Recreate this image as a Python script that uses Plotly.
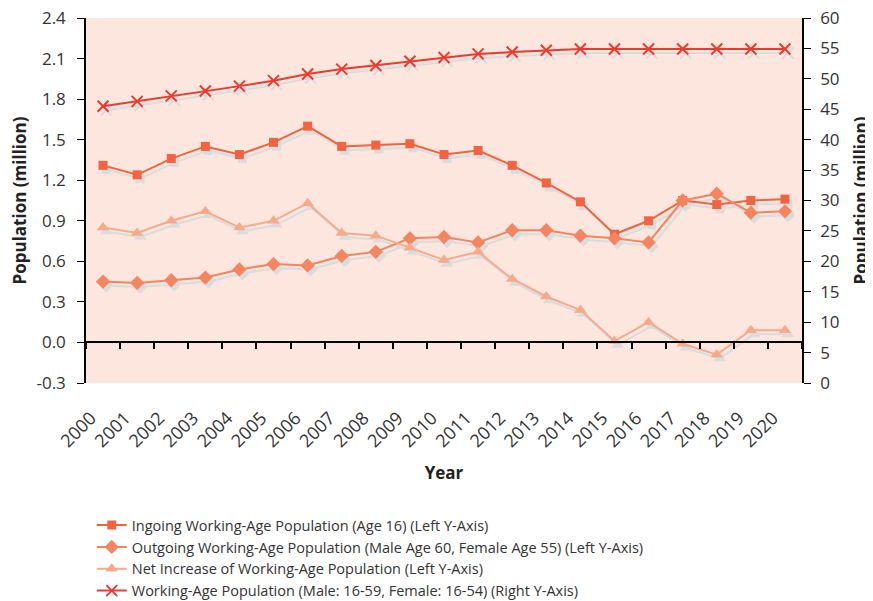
import plotly.graph_objects as go

# data
years = list(range(2000, 2021))
ingoing = [1.31, 1.24, 1.36, 1.45, 1.39, 1.48, 1.60, 1.45, 1.46, 1.47, 1.39,
           1.42, 1.31, 1.18, 1.04, 0.80, 0.90, 1.05, 1.02, 1.05, 1.06]
outgoing = [0.45, 0.44, 0.46, 0.48, 0.54, 0.58, 0.57, 0.64, 0.67, 0.77, 0.78,
            0.74, 0.83, 0.83, 0.79, 0.77, 0.74, 1.05, 1.10, 0.96, 0.97]
net_increase = [0.85, 0.81, 0.90, 0.97, 0.85, 0.90, 1.03, 0.81, 0.79, 0.70, 0.61,
                0.67, 0.47, 0.34, 0.24, 0.01, 0.15, -0.01, -0.09, 0.09, 0.09]
working_age = [45.5, 46.3, 47.2, 48.0, 48.8, 49.7, 50.8, 51.6, 52.2, 52.9, 53.5,
               54.1, 54.4, 54.7, 54.9, 54.9, 54.9, 54.9, 54.9, 54.9, 54.9]

left_ticks = [-0.3, 0.0, 0.3, 0.6, 0.9, 1.2, 1.5, 1.8, 2.1, 2.4]
left_labels = ["-0.3", "0.0", "0.3", "0.6", "0.9", "1.2", "1.5", "1.8", "2.1", "2.4"]

names = [
    "Ingoing Working-Age Population (Age 16) (Left Y-Axis)",
    "Outgoing Working-Age Population (Male Age 60, Female Age 55) (Left Y-Axis)",
    "Net Increase of Working-Age Population (Left Y-Axis)",
    "Working-Age Population (Male: 16-59, Female: 16-54) (Right Y-Axis)",
]
colors = ["#F26340", "#F5845F", "#F8A98A", "#EE3A2E"]
symbols = ["square", "diamond", "triangle-up", "x-thin"]
sizes = [9, 11, 11, 11]
series = [ingoing, outgoing, net_increase, working_age]

FONT = "Open Sans, Liberation Sans, sans-serif"
SHADOW = "#D7DCDF"

# page body has an 8px margin, so the figure is 8px smaller than the window
W, H = 719, 369
dx, dy = 3 / W, 4 / H  # shadow offset (px) on a second, nudged set of axes

fig = go.Figure()

# shadows first (bottom layer)
for i, s in enumerate(series):
    yax = "y4" if i == 3 else "y"
    mk = dict(symbol=symbols[i], size=sizes[i], color=SHADOW)
    if symbols[i] == "x-thin":
        mk["line"] = dict(color=SHADOW, width=2)
    fig.add_trace(go.Scatter(x=years, y=s, mode="lines+markers", xaxis="x", yaxis=yax,
                             line=dict(color=SHADOW, width=2), marker=mk,
                             showlegend=False, hoverinfo="skip"))

for i, s in enumerate(series):
    yax = "y3" if i == 3 else "y2"
    mk = dict(symbol=symbols[i], size=sizes[i], color=colors[i])
    if symbols[i] == "x-thin":
        mk["line"] = dict(color=colors[i], width=2)
    fig.add_trace(go.Scatter(x=years, y=s, mode="lines+markers", name=names[i],
                             xaxis="x2", yaxis=yax,
                             line=dict(color=colors[i], width=2), marker=mk))

# dummy trace for the zero-line axis with ticks
fig.add_trace(go.Scatter(x=[], y=[], xaxis="x3", yaxis="y2", showlegend=False, hoverinfo="skip"))

xrange = [1999.5, 2020.5]
tick_font = dict(family=FONT, size=17, color="#333333")
title_font = dict(family=FONT, size=17, color="#222222", weight="bold")

fig.update_layout(
    width=865, height=593,
    margin=dict(l=78, r=68, t=10, b=214, autoexpand=False),
    paper_bgcolor="white",
    plot_bgcolor="rgba(0,0,0,0)",
    font=dict(family=FONT, color="#333333"),
    shapes=[dict(type="rect", xref="paper", yref="paper", x0=0, x1=1 - dx, y0=dy, y1=1,
                 fillcolor="#FDE6DD", line=dict(width=0), layer="below")],
    xaxis=dict(domain=[dx, 1], range=xrange, visible=False, anchor="y"),
    yaxis=dict(domain=[0, 1 - dy], range=[-0.3, 2.4], visible=False, anchor="x"),
    yaxis4=dict(overlaying="y", range=[0, 60], visible=False, anchor="x"),
    xaxis2=dict(domain=[0, 1 - dx], range=xrange, anchor="y2",
                tickvals=[y - 0.5 for y in years], ticktext=[str(y) for y in years],
                tickangle=-45, ticks="", showline=False, showgrid=False, zeroline=False,
                tickfont=dict(family=FONT, size=18, color="#333333"), automargin=False,
                ticklabelstandoff=20, ticklabelshift=5,
                title=dict(text="Year", font=title_font, standoff=16)),
    xaxis3=dict(overlaying="x2", anchor="free", position=dy + (1 - dy) / 9, range=xrange,
                tickvals=[y - 0.5 for y in years] + [2020.5], ticks="outside", ticklen=6,
                tickcolor="black", tickwidth=1.5, showticklabels=False, showline=True,
                linecolor="black", linewidth=1.5, showgrid=False, zeroline=False,
                automargin=False),
    yaxis2=dict(domain=[dy, 1], anchor="x2", range=[-0.3, 2.4],
                tickvals=left_ticks, ticktext=left_labels, ticklabeloverflow="allow",
                showline=True, linecolor="black", linewidth=1.5,
                ticks="outside", ticklen=7, tickcolor="black", showgrid=False,
                zeroline=False, tickfont=tick_font, automargin=False, ticklabelstandoff=8,
                title=dict(text="Population (million)", font=title_font, standoff=12)),
    yaxis3=dict(overlaying="y2", side="right", anchor="x2", range=[0, 60], dtick=5,
                ticklabeloverflow="allow",
                showline=True, linecolor="black", linewidth=1.5, ticks="outside",
                ticklen=7, tickcolor="black", showgrid=False, zeroline=False,
                tickfont=tick_font, automargin=False, ticklabelstandoff=6,
                title=dict(text="Population (million)", font=title_font, standoff=16)),
    legend=dict(x=0.008, y=-0.331, xanchor="left", yanchor="top",
                font=dict(family=FONT, size=14.5, color="#333333"),
                bgcolor="rgba(0,0,0,0)"),
)

fig.write_html("out.html")
